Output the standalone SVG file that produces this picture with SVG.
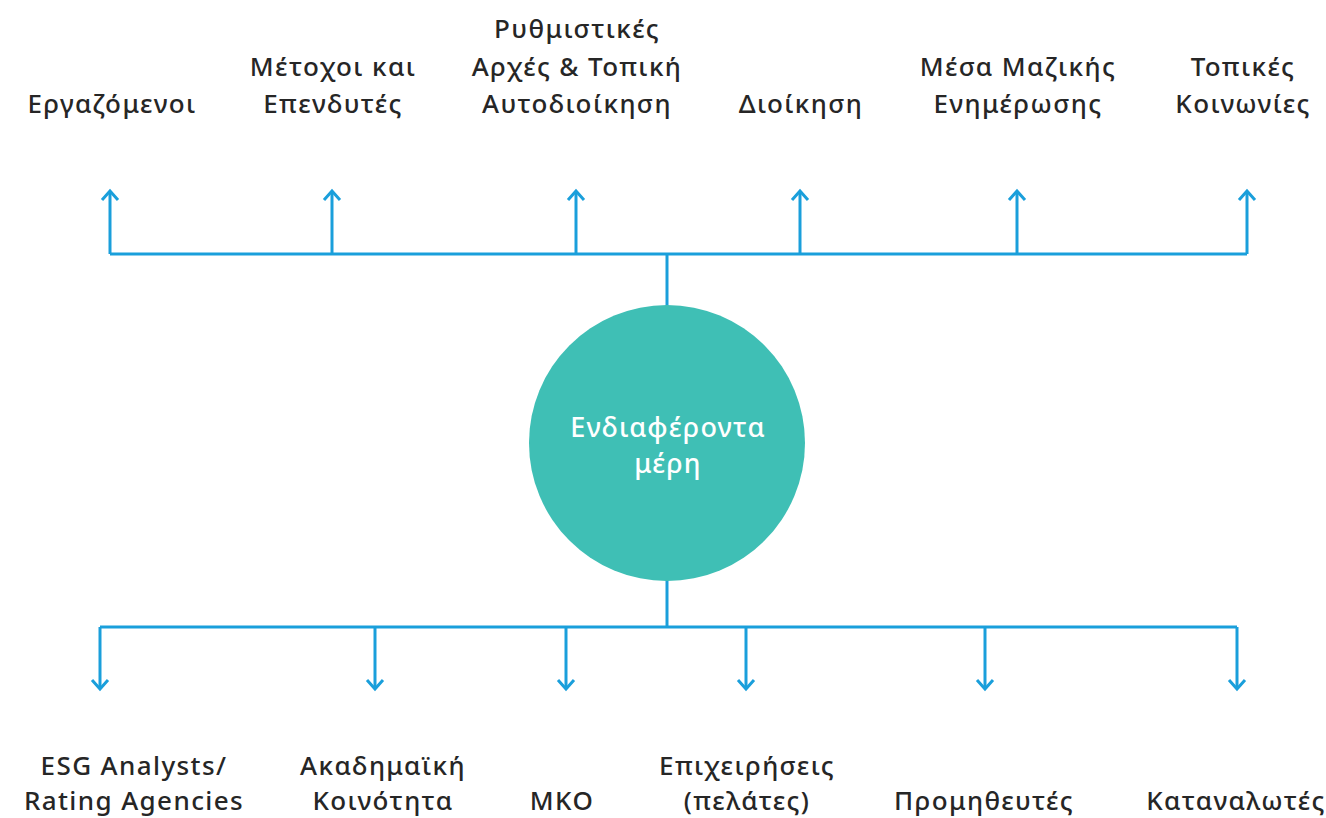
<svg xmlns="http://www.w3.org/2000/svg" width="1326" height="818" viewBox="0 0 1326 818">
<style>
.lbl{font-family:"Noto Sans","Liberation Sans",sans-serif;font-size:26px;font-weight:500;letter-spacing:1.4px;fill:#262626;text-anchor:middle}
.in{font-family:"Noto Sans","Liberation Sans",sans-serif;font-size:27px;font-weight:500;letter-spacing:1.2px;fill:#fff;text-anchor:middle}
.ln{stroke:#1a9fdb;stroke-width:3;fill:none}
</style>
<defs>
<marker id="ah" viewBox="0 0 20 20" refX="10" refY="10" markerWidth="20" markerHeight="20" markerUnits="userSpaceOnUse" orient="auto">
<path d="M1,2 L10,10 L1,18" fill="none" stroke="#1a9fdb" stroke-width="3"/>
</marker>
</defs>
<rect width="1326" height="818" fill="#fff"/>
<g id="connectors" class="ln">
<path d="M110,254 H1247"/>
<path d="M667,254 V306"/>
<path d="M110,254 V191" marker-end="url(#ah)"/>
<path d="M332,254 V191" marker-end="url(#ah)"/>
<path d="M576,254 V191" marker-end="url(#ah)"/>
<path d="M800,254 V191" marker-end="url(#ah)"/>
<path d="M1017,254 V191" marker-end="url(#ah)"/>
<path d="M1247,254 V191" marker-end="url(#ah)"/>
<path d="M667,580 V627"/>
<path d="M100,627 H1237"/>
<path d="M100,627 V689" marker-end="url(#ah)"/>
<path d="M375,627 V689" marker-end="url(#ah)"/>
<path d="M566,627 V689" marker-end="url(#ah)"/>
<path d="M746,627 V689" marker-end="url(#ah)"/>
<path d="M985,627 V689" marker-end="url(#ah)"/>
<path d="M1237,627 V689" marker-end="url(#ah)"/>
</g>
<g id="center">
<circle cx="667" cy="443" r="138" fill="#3fbfb5"/>
<text class="in" x="668" y="437">Ενδιαφέροντα</text>
<text class="in" x="668" y="473">μέρη</text>
</g>
<g id="n-employees"><text class="lbl" x="112" y="113">Εργαζόμενοι</text></g>
<g id="n-shareholders"><text class="lbl" x="333" y="76">Μέτοχοι και</text><text class="lbl" x="333" y="113">Επενδυτές</text></g>
<g id="n-regulators"><text class="lbl" x="577" y="38">Ρυθμιστικές</text><text class="lbl" x="577" y="76">Αρχές &amp; Τοπική</text><text class="lbl" x="577" y="113">Αυτοδιοίκηση</text></g>
<g id="n-management"><text class="lbl" x="801" y="113">Διοίκηση</text></g>
<g id="n-media"><text class="lbl" x="1018" y="76">Μέσα Μαζικής</text><text class="lbl" x="1018" y="113">Ενημέρωσης</text></g>
<g id="n-communities"><text class="lbl" x="1243" y="76">Τοπικές</text><text class="lbl" x="1243" y="113">Κοινωνίες</text></g>
<g id="n-esg"><text class="lbl" x="134" y="775">ESG Analysts/</text><text class="lbl" x="134" y="810">Rating Agencies</text></g>
<g id="n-academic"><text class="lbl" x="383" y="775">Ακαδημαϊκή</text><text class="lbl" x="383" y="810">Κοινότητα</text></g>
<g id="n-ngo"><text class="lbl" x="562" y="810">ΜΚΟ</text></g>
<g id="n-business"><text class="lbl" x="747" y="775">Επιχειρήσεις</text><text class="lbl" x="747" y="810">(πελάτες)</text></g>
<g id="n-suppliers"><text class="lbl" x="984" y="810">Προμηθευτές</text></g>
<g id="n-consumers"><text class="lbl" x="1236" y="810">Καταναλωτές</text></g>
</svg>
